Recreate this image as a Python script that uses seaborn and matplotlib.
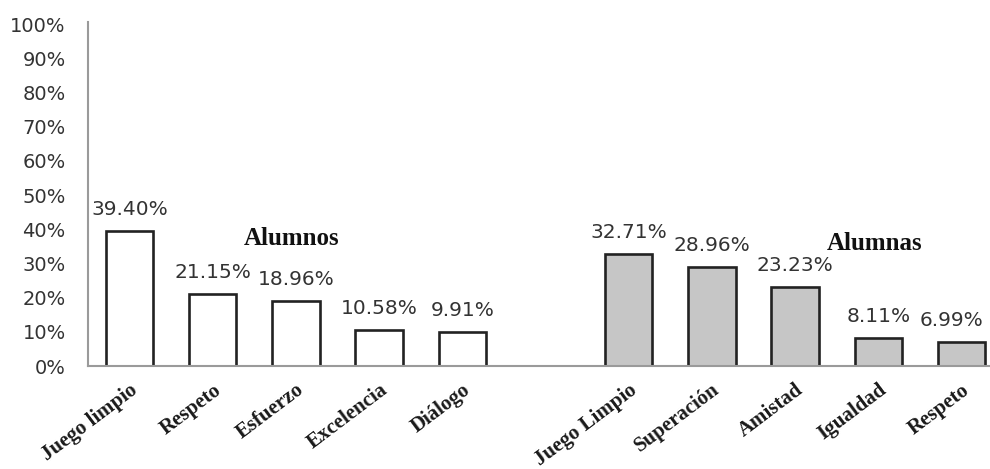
import matplotlib
matplotlib.use("Agg")
import matplotlib.pyplot as plt
import seaborn as sns
import pandas as pd
import numpy as np

# ---- data ----
alumnos_cats = ["Juego limpio", "Respeto", "Esfuerzo", "Excelencia", "Diálogo"]
alumnos_vals = [39.40, 21.15, 18.96, 10.58, 9.91]
alumnas_cats = ["Juego Limpio", "Superación", "Amistad", "Igualdad", "Respeto"]
alumnas_vals = [32.71, 28.96, 23.23, 8.11, 6.99]
group_names = ["Alumnos", "Alumnas"]
y_ticks = [0, 10, 20, 30, 40, 50, 60, 70, 80, 90, 100]

# build table (unique keys, blank slot between the groups)
keys_a = [f"A{i}" for i in range(len(alumnos_cats))]
keys_b = [f"B{i}" for i in range(len(alumnas_cats))]
order = keys_a + ["gap"] + keys_b
tick_labels = alumnos_cats + [""] + alumnas_cats
df = pd.DataFrame({
    "key": keys_a + keys_b,
    "value": alumnos_vals + alumnas_vals,
    "group": [group_names[0]] * len(keys_a) + [group_names[1]] * len(keys_b),
})

sns.set_theme(style="white")
plt.rcParams["font.family"] = ["DejaVu Sans"]

fig = plt.figure(figsize=(9.9, 4.69), dpi=100)
ax = fig.add_axes([88 / 990, 103 / 469, 915 / 990, 344 / 469])

sns.barplot(data=df, x="key", y="value", hue="group", order=order,
            hue_order=group_names, palette={"Alumnos": "#ffffff", "Alumnas": "#c6c6c6"},
            dodge=False, width=0.57, edgecolor="#222222", linewidth=1.9,
            legend=False, ax=ax)

ax.set_ylim(0, 100.6)
ax.set_xlim(-0.5, len(order) - 0.5)
ax.set_yticks(y_ticks)
ax.set_yticklabels([f"{v}%" for v in y_ticks], fontsize=14, color="#333333")
ax.tick_params(axis="y", length=0, pad=16)

ax.set_xticks(range(len(order)))
ax.set_xticklabels(tick_labels, rotation=37, ha="right", va="top",
                   rotation_mode="anchor", fontsize=15, fontweight="bold",
                   family="Liberation Serif", color="#1a1a1a")
ax.tick_params(axis="x", length=0, pad=10)
ax.set_xlabel("")
ax.set_ylabel("")

for s in ["top", "right"]:
    ax.spines[s].set_visible(False)
for s in ["left", "bottom"]:
    ax.spines[s].set_color("#9a9a9a")
    ax.spines[s].set_linewidth(1.5)

# value labels
last_ann = None
for cont in ax.containers:
    labels = [f"{v:.2f}%" if not np.isnan(v) else "" for v in cont.datavalues]
    anns = ax.bar_label(cont, labels=labels, padding=8.6, fontsize=14.5, color="#333333")
    for a in anns:
        if a.get_text():
            last_ann = a
# keep the right-most label inside the figure
if last_ann is not None:
    last_ann.xyann = (-7, 8.6)

# group titles
ax.text(1.95, 37.4, group_names[0], ha="center", va="center", fontsize=18,
        fontweight="bold", family="Liberation Serif", color="#111111")
ax.text(8.95, 35.7, group_names[1], ha="center", va="center", fontsize=18,
        fontweight="bold", family="Liberation Serif", color="#111111")

fig.savefig("out.png", dpi=100, facecolor="white")
